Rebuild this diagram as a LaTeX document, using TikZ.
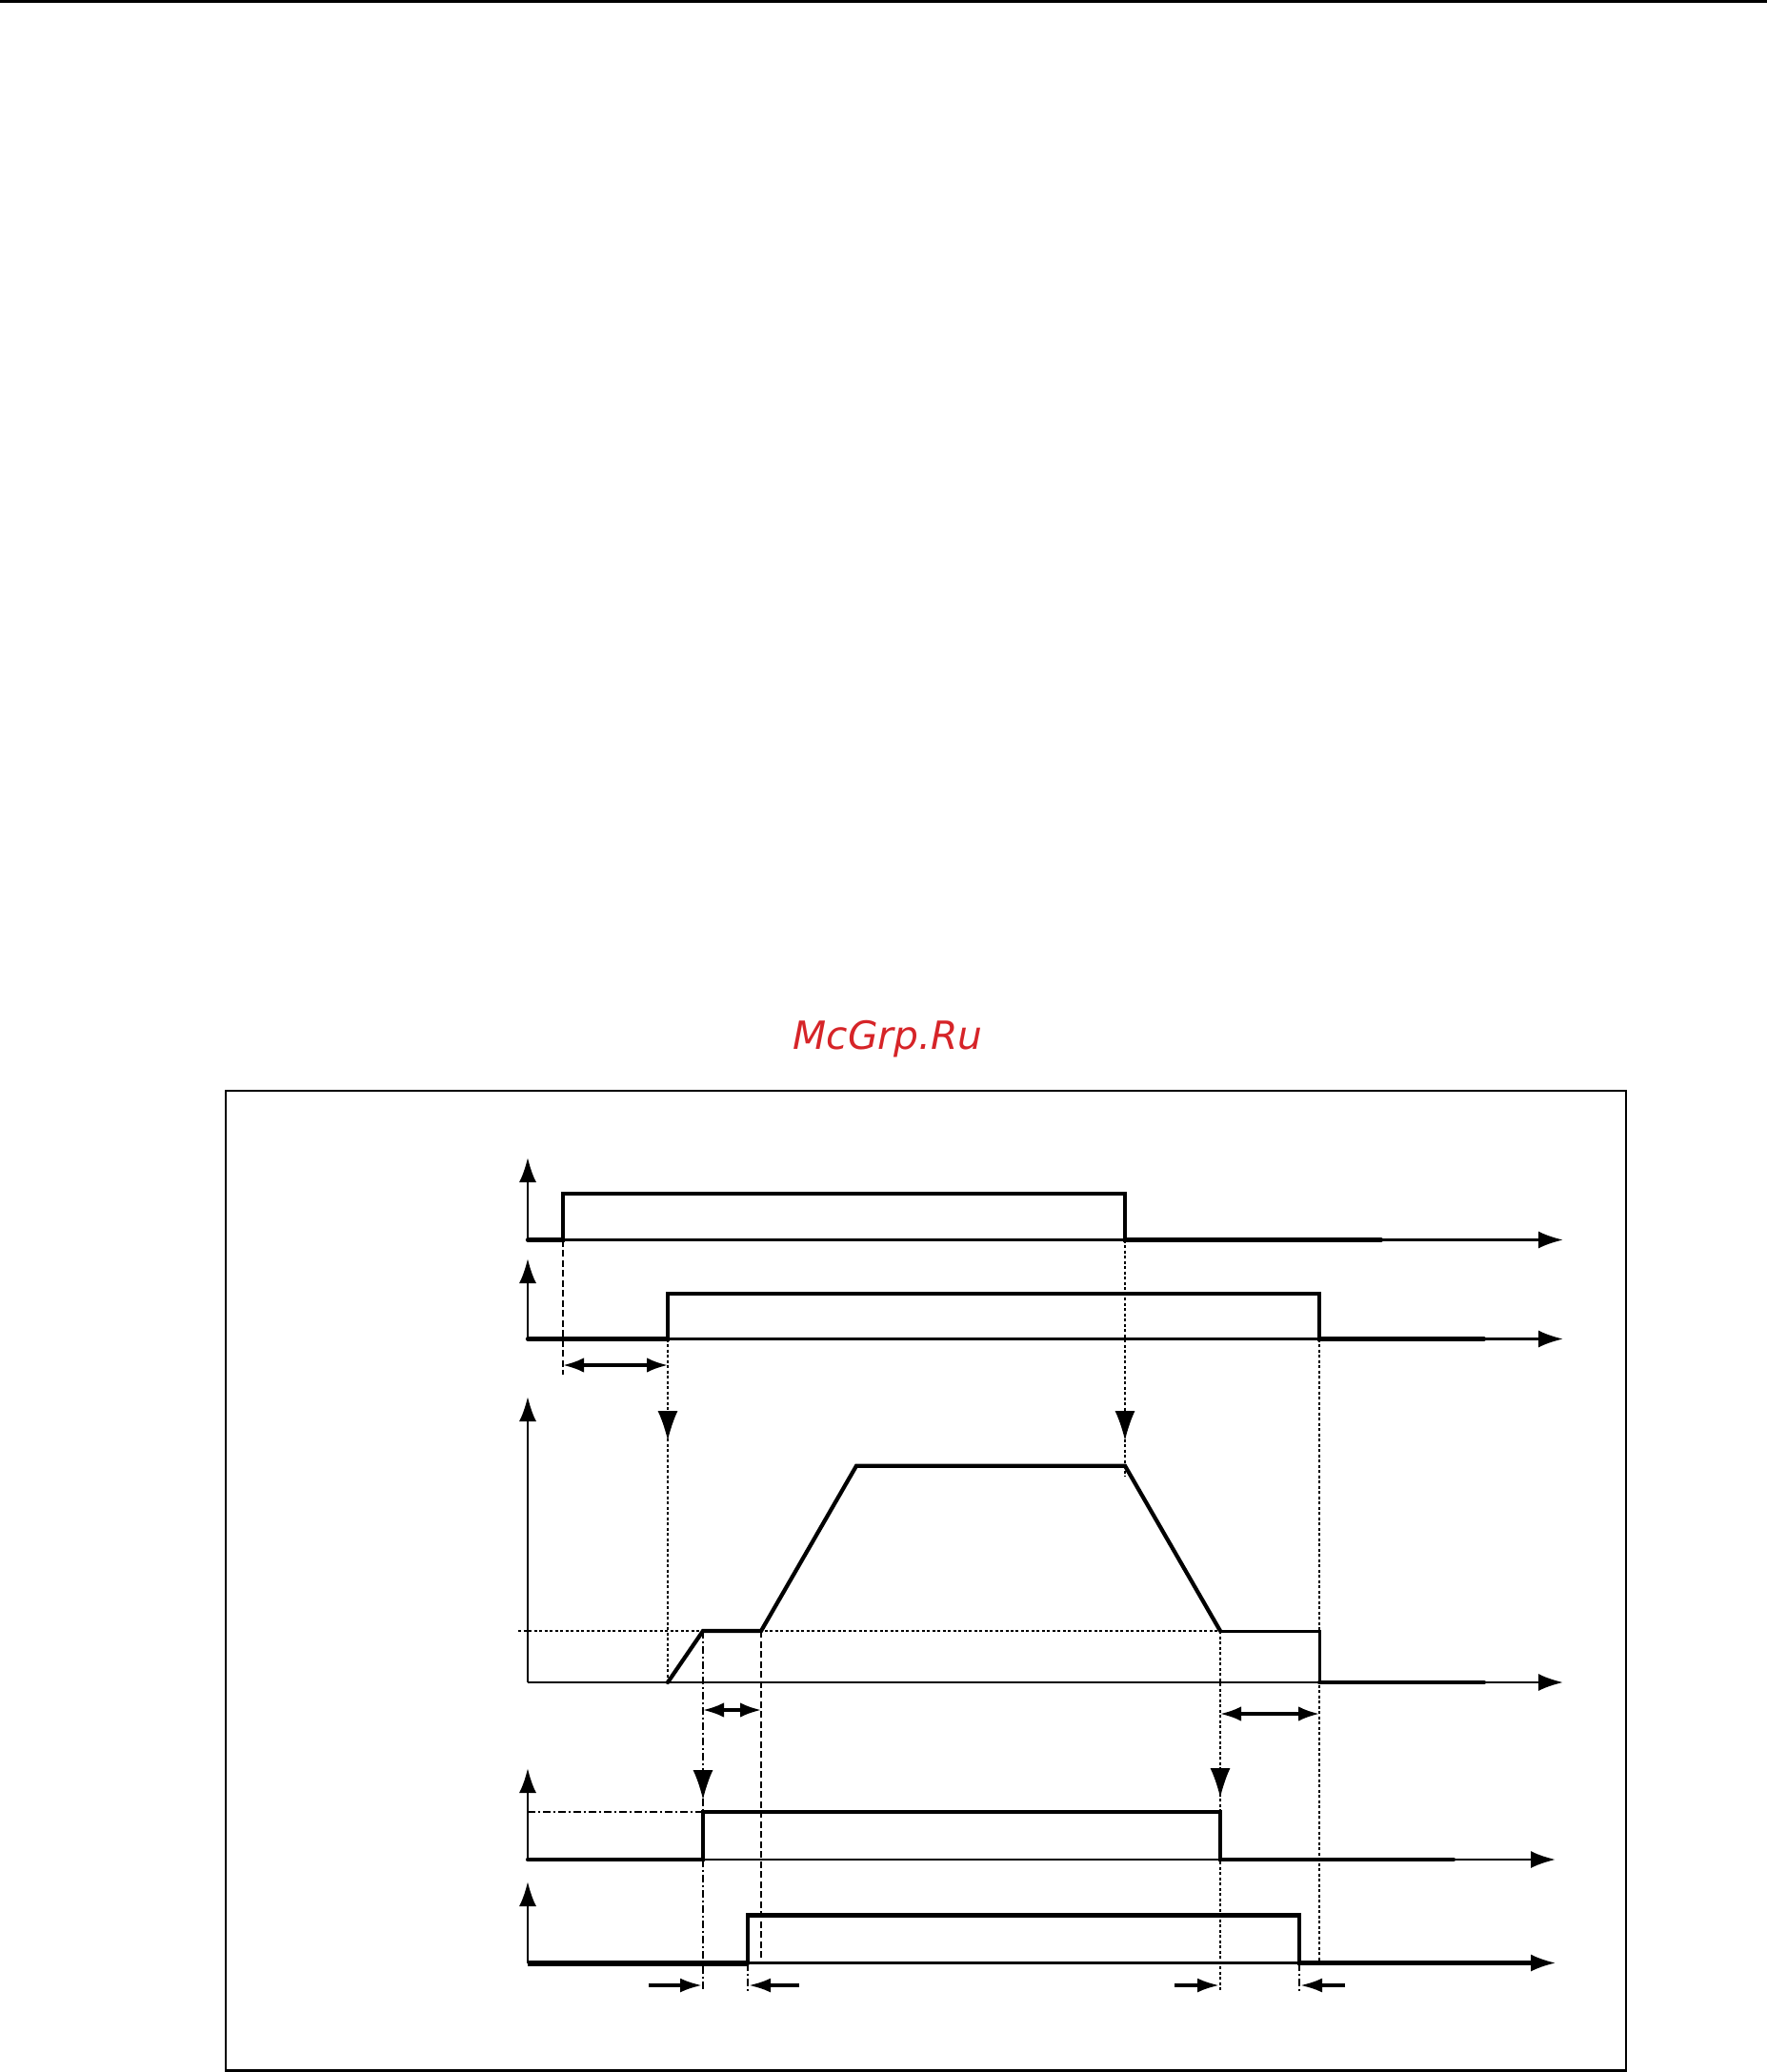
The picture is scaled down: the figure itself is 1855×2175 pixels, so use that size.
\documentclass[tikz,border=0pt]{standalone}
\usepackage{fontspec}
\newfontfamily\wmfont{DejaVu Sans}
\usepackage{xcolor}
\usepackage{tikz}
\usetikzlibrary{arrows.meta}
\definecolor{mcred}{RGB}{214,36,40}

\begin{document}
\begin{tikzpicture}[x=0.1mm, y=-0.1mm,
  axis/.style={line width=0.75pt, -{Latex[length=2.6mm, width=1.8mm]}},
  sig/.style={line width=1.2pt, line cap=round},
  guide/.style={line width=0.55pt, dash pattern=on 0.3mm off 0.25mm},
  dashguide/.style={line width=0.6pt, dash pattern=on 0.7mm off 0.35mm},
  dotdash/.style={line width=0.75pt, dash pattern=on 0.75mm off 0.3mm on 0.25mm off 0.3mm},
  drop/.style={-{Latex[length=3.1mm, width=2.1mm]}},
  span/.style={line width=0.9pt, {Latex[length=2.2mm, width=1.55mm]}-{Latex[length=2.2mm, width=1.55mm]}},
  push/.style={line width=0.9pt, -{Latex[length=2.3mm, width=1.5mm]}}
]
\useasboundingbox (0,0) rectangle (1855,2175);
\fill (0,0) rectangle (1855,3.3);
\node[text=mcred, font=\wmfont\itshape\fontsize{11.6pt}{13pt}\selectfont, anchor=base] (wm) at (932,1101) {McGrp.Ru};
\draw[line width=0.6pt] (237,1145) rectangle (1707,2173.5);

% axes
\foreach \yb/\yt/\xe in {1301.5/1215/1641, 1405.5/1321/1641, 1766/1466/1641, 1952/1856/1633, 2060.5/1975/1633} {
  \draw[axis] (554,\yb) -- (\xe,\yb);
  \draw[axis] (554,\yb) -- (554,\yt);
}

% guide lines
\draw[guide] (544,1712) -- (1281,1712);
\draw[dashguide] (591,1301.5) -- (591,1443);
\draw[guide] (701,1405.5) -- (701,1766);
\draw[guide] (1181,1301.5) -- (1181,1550);
\draw[dotdash] (738,1712) -- (738,2090);
\draw[dashguide] (799,1712) -- (799,2058);
\draw[guide] (1281,1712) -- (1281,2090);
\draw[guide] (1385,1405.5) -- (1385,2058);
\draw[dotdash] (554,1902) -- (738,1902);
\draw[dotdash] (785,2061) -- (785,2090);
\draw[dotdash] (1364,2061) -- (1364,2090);

\draw[drop] (701,1481) -- (701,1512);
\draw[drop] (1181,1481) -- (1181,1512);
\draw[drop] (738,1857) -- (738,1889);
\draw[drop] (1281,1855) -- (1281,1887);

\draw[span] (591,1433) -- (701,1433);
\draw[span] (738,1795) -- (799,1795);
\draw[span] (1281,1799) -- (1385,1799);

\draw[push] (681,2084) -- (737,2084);
\draw[push] (839,2084) -- (786,2084);
\draw[push] (1233,2084) -- (1280,2084);
\draw[push] (1412,2084) -- (1365,2084);

% signals
\draw[sig] (554,1301.5) -- (591,1301.5) -- (591,1253) -- (1181,1253) -- (1181,1301.5) -- (1450,1301.5);
\draw[sig] (554,1405.5) -- (701,1405.5) -- (701,1358.3) -- (1385,1358.3) -- (1385,1405.5) -- (1558,1405.5);
\draw[sig] (701,1766) -- (738,1712) -- (799,1712) -- (899,1538.7) -- (1181,1538.7) -- (1281,1712);
\draw[line width=0.85pt] (1281,1712) -- (1385,1712) -- (1385,1766);
\draw[sig] (1385,1766) -- (1558,1766);
\draw[sig] (554,1952) -- (738,1952) -- (738,1902) -- (1281,1902) -- (1281,1952) -- (1526,1952);
\draw[line width=1.5pt] (554,2061) -- (785,2061);
\draw[sig] (785,2061) -- (785,2010.5) -- (1364,2010.5) -- (1364,2060.5) -- (1610,2060.5);
\end{tikzpicture}
\end{document}
